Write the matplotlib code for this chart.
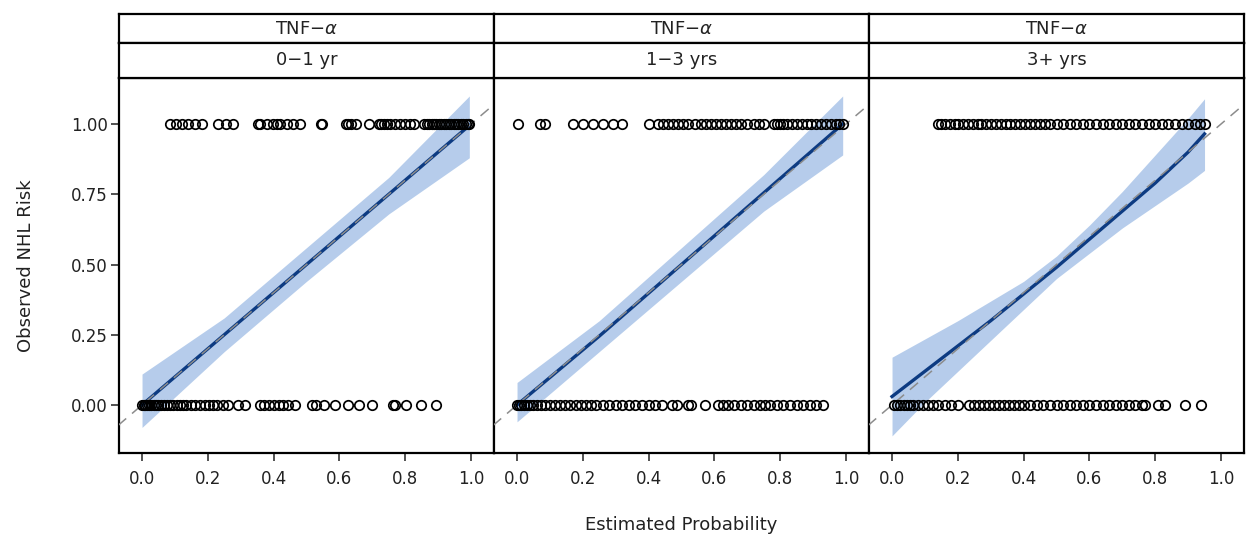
import numpy as np
import matplotlib
matplotlib.use("Agg")
import matplotlib.pyplot as plt

plt.rcParams['font.family'] = ['DejaVu Sans']

# strip labels
marker_name = "TNF\u2212$\\alpha$"
periods = ["0\u22121 yr", "1\u22123 yrs", "3+ yrs"]

# observed outcomes (estimated probability of each subject), split by outcome
p1_events = [0.085, 0.104, 0.122, 0.14, 0.162, 0.183, 0.232, 0.256, 0.277, 0.354, 0.36, 0.381,
             0.399, 0.41, 0.42, 0.442, 0.46, 0.479, 0.543, 0.547, 0.619, 0.627, 0.634, 0.649,
             0.689, 0.72, 0.726, 0.735, 0.745, 0.755, 0.77, 0.785, 0.80, 0.815, 0.826, 0.857,
             0.865, 0.872, 0.88, 0.888, 0.895, 0.903, 0.91, 0.918, 0.925, 0.933, 0.94, 0.948,
             0.955, 0.962, 0.97, 0.977, 0.985, 0.99, 0.995]
p1_nonevents = [0.0, 0.005, 0.01, 0.015, 0.02, 0.028, 0.035, 0.042, 0.05, 0.058, 0.066, 0.075,
                0.085, 0.095, 0.105, 0.115, 0.125, 0.135, 0.148, 0.16, 0.175, 0.19, 0.205, 0.215,
                0.228, 0.245, 0.26, 0.293, 0.314, 0.36, 0.37, 0.385, 0.40, 0.415, 0.43, 0.445,
                0.466, 0.518, 0.53, 0.552, 0.588, 0.625, 0.659, 0.70, 0.762, 0.77, 0.802, 0.848,
                0.893]

p2_events = [0.003, 0.07, 0.085, 0.17, 0.2, 0.23, 0.26, 0.293, 0.32, 0.40, 0.43, 0.445, 0.46,
             0.475, 0.49, 0.505, 0.52, 0.54, 0.56, 0.575, 0.59, 0.605, 0.62, 0.635, 0.65, 0.665,
             0.68, 0.70, 0.72, 0.735, 0.75, 0.78, 0.79, 0.80, 0.81, 0.82, 0.835, 0.85, 0.865,
             0.88, 0.895, 0.91, 0.925, 0.94, 0.955, 0.97, 0.98, 0.99]
p2_nonevents = [0.0, 0.005, 0.012, 0.02, 0.03, 0.04, 0.05, 0.06, 0.072, 0.085, 0.1, 0.115, 0.13,
                0.145, 0.16, 0.18, 0.195, 0.21, 0.225, 0.24, 0.26, 0.28, 0.30, 0.32, 0.34, 0.36,
                0.38, 0.40, 0.42, 0.44, 0.47, 0.485, 0.52, 0.53, 0.57, 0.61, 0.625, 0.64, 0.66,
                0.68, 0.70, 0.72, 0.74, 0.755, 0.77, 0.79, 0.81, 0.83, 0.85, 0.87, 0.89, 0.91,
                0.93]

p3_events = [0.14, 0.15, 0.16, 0.175, 0.19, 0.20, 0.215, 0.23, 0.245, 0.26, 0.27, 0.285, 0.30,
             0.315, 0.33, 0.345, 0.36, 0.375, 0.39, 0.405, 0.42, 0.435, 0.45, 0.465, 0.48, 0.50,
             0.52, 0.54, 0.56, 0.58, 0.60, 0.62, 0.64, 0.66, 0.68, 0.70, 0.72, 0.74, 0.76, 0.78,
             0.80, 0.82, 0.84, 0.86, 0.88, 0.90, 0.92, 0.935, 0.95]
p3_nonevents = [0.005, 0.015, 0.025, 0.035, 0.045, 0.055, 0.065, 0.08, 0.095, 0.11, 0.125, 0.14,
                0.16, 0.18, 0.2, 0.235, 0.25, 0.265, 0.28, 0.295, 0.31, 0.325, 0.34, 0.355, 0.37,
                0.385, 0.40, 0.42, 0.44, 0.46, 0.48, 0.50, 0.52, 0.54, 0.56, 0.58, 0.60, 0.62,
                0.64, 0.66, 0.68, 0.70, 0.72, 0.74, 0.76, 0.77, 0.81, 0.83, 0.89, 0.94]

# smoothed calibration curve with confidence band
p1_x = [0.0, 0.25, 0.5, 0.75, 0.995]
p1_fit = [0.0, 0.25, 0.5, 0.75, 0.995]
p1_lo = [-0.08, 0.19, 0.44, 0.68, 0.88]
p1_hi = [0.11, 0.31, 0.56, 0.81, 1.10]

p2_x = [0.0, 0.25, 0.5, 0.75, 0.99]
p2_fit = [0.0, 0.245, 0.5, 0.755, 1.0]
p2_lo = [-0.06, 0.19, 0.44, 0.69, 0.89]
p2_hi = [0.08, 0.30, 0.56, 0.82, 1.10]

p3_x = [0.0, 0.1, 0.2, 0.3, 0.4, 0.5, 0.6, 0.7, 0.8, 0.9, 0.95]
p3_fit = [0.03, 0.12, 0.21, 0.30, 0.395, 0.49, 0.59, 0.69, 0.79, 0.90, 0.965]
p3_lo = [-0.11, 0.01, 0.12, 0.23, 0.34, 0.45, 0.54, 0.63, 0.71, 0.79, 0.835]
p3_hi = [0.17, 0.235, 0.30, 0.37, 0.44, 0.53, 0.64, 0.76, 0.89, 1.02, 1.09]

panels = [
    (p1_events, p1_nonevents, p1_x, p1_fit, p1_lo, p1_hi),
    (p2_events, p2_nonevents, p2_x, p2_fit, p2_lo, p2_hi),
    (p3_events, p3_nonevents, p3_x, p3_fit, p3_lo, p3_hi),
]

W, H = 1249, 544
fig = plt.figure(figsize=(W / 100, H / 100), dpi=100)

left0 = 119
pw = 375
plot_top, plot_bot = 78, 453
strip1 = (14, 43)
strip2 = (43, 78)

def box(l, t, b):
    return [l / W, 1 - b / H, pw / W, (b - t) / H]

for i, (ev, nev, fx, fit, lo, hi) in enumerate(panels):
    l = left0 + pw * i
    ax = fig.add_axes(box(l, plot_top, plot_bot))
    ax.fill_between(fx, lo, hi, color='#a9c4e8', alpha=0.85, lw=0, zorder=1)
    ax.plot(fx, fit, color='#0d3b82', lw=2.4, zorder=2)
    ax.plot([-0.2, 1.2], [-0.2, 1.2], color='#8c8c8c', lw=1.1, ls=(0, (7, 5)), zorder=3)
    ax.plot(ev, np.ones(len(ev)), 'o', mfc='none', mec='black', ms=6.8, mew=1.25, zorder=4)
    ax.plot(nev, np.zeros(len(nev)), 'o', mfc='none', mec='black', ms=6.8, mew=1.25, zorder=4)
    ax.set_xlim(-0.07, 1.07)
    ax.set_ylim(-0.171, 1.164)
    ax.set_xticks([0.0, 0.2, 0.4, 0.6, 0.8, 1.0])
    ax.set_xticklabels(["0.0", "0.2", "0.4", "0.6", "0.8", "1.0"])
    ax.tick_params(axis='x', length=6, width=1.2, labelsize=12, pad=6, colors='#333333')
    ax.tick_params(axis='x', labelcolor='#222222')
    if i == 0:
        ax.set_yticks([0, 0.25, 0.5, 0.75, 1.0])
        ax.set_yticklabels(["0.00", "0.25", "0.50", "0.75", "1.00"])
        ax.tick_params(axis='y', length=6, width=1.2, labelsize=12, pad=2, colors='#333333')
        ax.tick_params(axis='y', labelcolor='#222222')
        ax.set_ylabel("Observed NHL Risk", fontsize=13, labelpad=26, color='#222222')
    else:
        ax.set_yticks([])
    for s in ax.spines.values():
        s.set_linewidth(1.6)
        s.set_color('black')

    # strip headers
    for (t, b), label in [(strip1, marker_name), (strip2, periods[i])]:
        sax = fig.add_axes(box(l, t, b))
        sax.set_xticks([])
        sax.set_yticks([])
        for s in sax.spines.values():
            s.set_linewidth(1.6)
        sax.text(0.5, 0.5, label, ha='center', va='center', fontsize=13,
                 color='#222222', transform=sax.transAxes)

fig.text((left0 + 1.5 * pw) / W, 1 - 525 / H, "Estimated Probability",
         ha='center', va='center', fontsize=13, color='#222222')

fig.savefig("out.png", dpi=100)
